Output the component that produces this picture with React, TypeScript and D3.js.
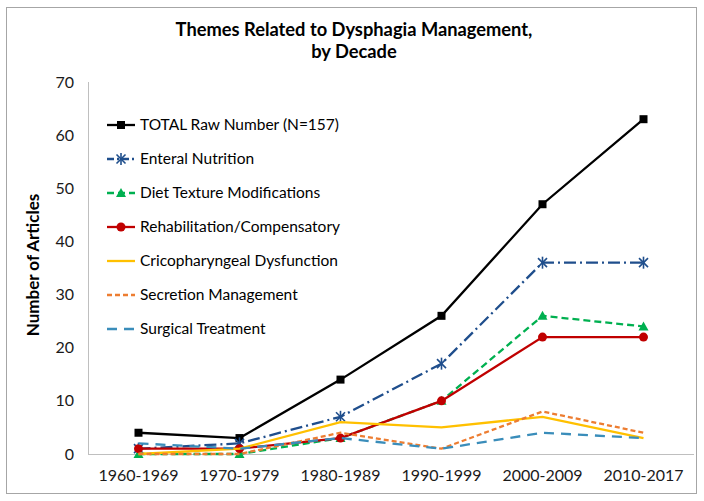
import React from "react";
import * as d3 from "d3";

const categories = ["1960-1969", "1970-1979", "1980-1989", "1990-1999", "2000-2009", "2010-2017"];
const totalRaw = [4, 3, 14, 26, 47, 63];
const enteral = [1, 2, 7, 17, 36, 36];
const dietTexture = [0, 0, 3, 10, 26, 24];
const rehab = [1, 1, 3, 10, 22, 22];
const crico = [0, 1, 6, 5, 7, 3];
const secretion = [0, 0, 4, 1, 8, 4];
const surgical = [2, 1, 3, 1, 4, 3];
const yTicks = [0, 10, 20, 30, 40, 50, 60, 70];

type Marker = "square" | "star" | "triangle" | "circle" | "none";
const series: { name: string; values: number[]; color: string; dash: string; marker: Marker }[] = [
  { name: "TOTAL Raw Number (N=157)", values: totalRaw, color: "#000000", dash: "", marker: "square" },
  { name: "Enteral Nutrition", values: enteral, color: "#1f4e8c", dash: "12 4 2 4", marker: "star" },
  { name: "Diet Texture Modifications", values: dietTexture, color: "#00b050", dash: "7 4", marker: "triangle" },
  { name: "Rehabilitation/Compensatory", values: rehab, color: "#c00000", dash: "", marker: "circle" },
  { name: "Cricopharyngeal Dysfunction", values: crico, color: "#ffc000", dash: "", marker: "none" },
  { name: "Secretion Management", values: secretion, color: "#ed7d31", dash: "5 3", marker: "none" },
  { name: "Surgical Treatment", values: surgical, color: "#3a8dba", dash: "10 7", marker: "none" },
];

const FONT = "Lato, 'Open Sans', sans-serif";

function MarkerShape({ type, x, y, color }: { type: Marker; x: number; y: number; color: string }) {
  if (type === "square") return <rect x={x - 4} y={y - 4} width={8} height={8} fill={color} />;
  if (type === "circle") return <circle cx={x} cy={y} r={4.5} fill={color} />;
  if (type === "triangle")
    return <path d={`M${x},${y - 5} L${x + 5},${y + 4} L${x - 5},${y + 4} Z`} fill={color} />;
  if (type === "star")
    return (
      <g stroke={color} strokeWidth={1.6}>
        <line x1={x - 4.5} y1={y - 4.5} x2={x + 4.5} y2={y + 4.5} />
        <line x1={x - 4.5} y1={y + 4.5} x2={x + 4.5} y2={y - 4.5} />
        <line x1={x} y1={y - 6} x2={x} y2={y + 6} />
      </g>
    );
  return null;
}

export default function App() {
  const W = 704, H = 501;
  const left = 88, right = 694, top = 82, bottom = 454;
  const x = d3.scalePoint<string>().domain(categories).range([left, right]).padding(0.5);
  const y = d3.scaleLinear().domain([0, 70]).range([bottom, top]);
  const line = d3
    .line<number>()
    .x((_, i) => x(categories[i]) as number)
    .y((d) => y(d));

  const legendX = 107, legendY0 = 125, legendStep = 34;

  return (
    <svg width={W} height={H} style={{ position: "absolute", left: 0, top: 0, background: "#fff" }} fontFamily={FONT}>
      <rect x={0} y={0} width={W} height={H} fill="#fff" />
      <rect x={6.5} y={7.5} width={690} height={486} fill="#fff" stroke="#a6a6a6" strokeWidth={1} />
      <text x={354} y={36} textAnchor="middle" fontSize={18.3} fontWeight="bold" fill="#000">
        Themes Related to Dysphagia Management,
      </text>
      <text x={354} y={58} textAnchor="middle" fontSize={18.3} fontWeight="bold" fill="#000">
        by Decade
      </text>
      {/* axes */}
      <line x1={left + 0.5} y1={top} x2={left + 0.5} y2={bottom} stroke="#bfbfbf" strokeWidth={1} />
      <line x1={left} y1={bottom + 0.5} x2={right} y2={bottom + 0.5} stroke="#bfbfbf" strokeWidth={1} />
      {yTicks.map((t) => (
        <text key={t} x={74} y={y(t) + 5.5} textAnchor="end" fontSize={16} fill="#1a1a1a">
          {t}
        </text>
      ))}
      {categories.map((c) => (
        <text key={c} x={x(c)} y={481} textAnchor="middle" fontSize={16} fill="#1a1a1a">
          {c}
        </text>
      ))}
      <text
        transform={`translate(39,265) rotate(-90)`}
        textAnchor="middle"
        fontSize={17}
        fontWeight="bold"
        fill="#000"
      >
        Number of Articles
      </text>
      {/* series */}
      {series.map((s) => (
        <g key={s.name}>
          <path d={line(s.values) || ""} fill="none" stroke={s.color} strokeWidth={2.3} strokeDasharray={s.dash} />
          {s.values.map((v, i) => (
            <MarkerShape key={i} type={s.marker} x={x(categories[i]) as number} y={y(v)} color={s.color} />
          ))}
        </g>
      ))}
      {/* legend */}
      {series.map((s, i) => {
        const ly = legendY0 + i * legendStep;
        return (
          <g key={s.name}>
            <line x1={legendX} y1={ly} x2={legendX + 28} y2={ly} stroke={s.color} strokeWidth={2.3} strokeDasharray={s.dash ? (s.dash === "12 4 2 4" ? "7 3 2 3" : s.dash) : ""} />
            <MarkerShape type={s.marker} x={legendX + 14} y={ly} color={s.color} />
            <text x={legendX + 33} y={ly + 5} fontSize={15.5} fill="#000">
              {s.name}
            </text>
          </g>
        );
      })}
    </svg>
  );
}
